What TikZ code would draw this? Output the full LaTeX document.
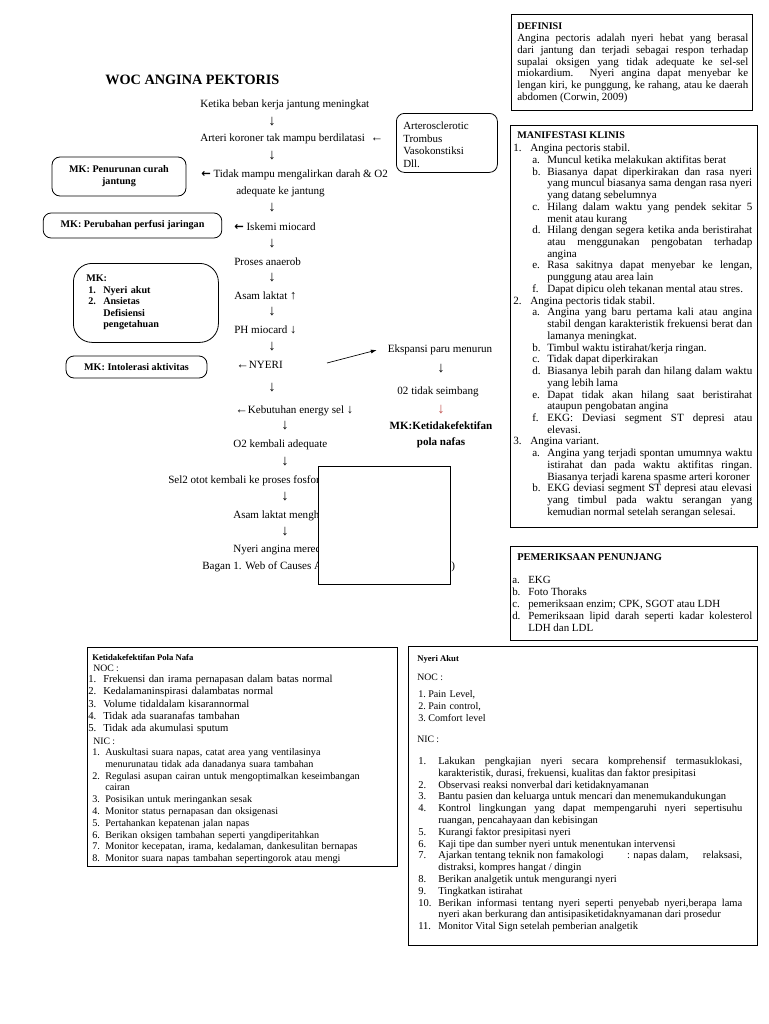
\documentclass[tikz,border=0pt]{standalone}
\usepackage{fontspec}
\setmainfont{Liberation Serif}
\newfontfamily\djv{DejaVu Sans}
\usetikzlibrary{arrows.meta}
\definecolor{mkred}{RGB}{192,80,77}
\newcommand\fNorm{\fontsize{8.3pt}{8.8pt}\selectfont}
\newcommand\fMan{\fontsize{8.3pt}{8.8pt}\selectfont\spaceskip=.25em plus .6em minus .1em\relax}
\newcommand\fDef{\fontsize{8.2pt}{8.8pt}\selectfont\spaceskip=.25em plus .6em minus .1em\relax}
\newcommand\fPem{\fontsize{8.2pt}{9pt}\selectfont}
\newcommand\fSmall{\fontsize{7.3pt}{8.85pt}\selectfont}
\newcommand\fNic{\fontsize{7.6pt}{8.85pt}\selectfont}
\newcommand\fNoc{\fontsize{8pt}{9.1pt}\selectfont}
\newcommand\fNy{\fontsize{7.9pt}{8.85pt}\selectfont\spaceskip=.25em plus .6em minus .1em\relax}
\newcommand\fBold{\fontsize{7.6pt}{9pt}\selectfont\bfseries}
\newcommand\fTit{\fontsize{6.5pt}{8pt}\selectfont\bfseries}
\newcommand\ia[1]{{\fontsize{9.5pt}{9pt}\selectfont #1}}
\newcommand\ba{{\djv\bfseries\fontsize{8.5pt}{8pt}\selectfont ←}}
\newcommand\li[3]{\par\leftskip=#1\relax\hangindent=#2\relax\hangafter=1\noindent\rule{0pt}{6pt}\makebox[#2][l]{#3}\ignorespaces}
\tikzset{
  tx/.style={inner sep=0pt, anchor=west, yshift=-1.5pt, text height=5.6pt, text depth=1.7pt, font=\fNorm},
  arw/.style={inner sep=0pt, anchor=center, yshift=-0.8pt, font=\fontsize{11pt}{12pt}\selectfont},
  bx/.style={draw, line width=0.6pt},
  mkbox/.style={draw, line width=0.6pt, rounded corners=6pt, font=\fBold, align=center, inner sep=0pt},
  blk/.style={inner sep=0pt, anchor=north west, align=justify},
}
\begin{document}
\hyphenpenalty=10000 \exhyphenpenalty=10000
\begin{tikzpicture}[x=0.75pt,y=-0.75pt]
\useasboundingbox (0,0) rectangle (768,1024);
\fill[white] (0,0) rectangle (768,1024);

% title
\node[tx, font=\fontsize{10.7pt}{12pt}\selectfont\bfseries] (title) at (105,80) {WOC ANGINA PEKTORIS};

% main flow
\node[tx] (f1) at (200,103) {Ketika beban kerja jantung meningkat};
\node[arw] (a1) at (272,121) {↓};
\node[tx] (f2) at (200,137) {Arteri koroner tak mampu berdilatasi\ \ \ia{←}};
\node[arw] (a2) at (272,155) {↓};
\node[tx] (f3) at (201,173) {\ba{} Tidak mampu mengalirkan darah \& O2};
\node[tx] (f3b) at (236,190) {adequate ke jantung};
\node[arw] (a3) at (272,207) {↓};
\node[tx] (f4) at (234,226) {\ba{} Iskemi miocard};
\node[arw] (a4) at (272,243) {↓};
\node[tx] (f5) at (234,261) {Proses anaerob};
\node[arw] (a5) at (272,277) {↓};
\node[tx] (f6) at (234,295) {Asam laktat \ia{↑}};
\node[arw] (a6) at (272,311) {↓};
\node[tx] (f7) at (234,329) {PH miocard \ia{↓}};
\node[arw] (a7) at (272,346) {↓};
\node[tx] (f8) at (236,364) {\ia{←}NYERI};
\node[arw] (a8) at (272,387) {↓};
\node[tx] (f9) at (235,409) {\ia{←}Kebutuhan energy sel \ia{↓}};
\node[arw] (a9) at (285,425) {↓};
\node[tx] (f10) at (233,443) {O2 kembali adequate};
\node[arw] (a10) at (285,461) {↓};
\node[tx] (f11) at (168,479) {Sel2 otot kembali ke proses fosfor};
\node[arw] (a11) at (285,496) {↓};
\node[tx] (f12) at (233,514) {Asam laktat mengh};
\node[arw] (a12) at (285,531) {↓};
\node[tx] (f13) at (233,548) {Nyeri angina mered};
\node[tx] (f14) at (202,565) {Bagan 1. Web of Causes A};
\node[tx] (f14b) at (451,565) {)};
\node[bx, fill=white, anchor=north west, minimum width=99pt, minimum height=88.5pt, inner sep=0pt] (blank) at (318,466) {};

% right flow
\node[tx, anchor=center] (e1) at (440,348) {Ekspansi paru menurun};
\node[arw] (e2) at (441,368) {↓};
\node[tx, anchor=center] (e3) at (438,390) {02 tidak seimbang};
\node[arw, text=mkred] (e4) at (441,409) {\textbf{↓}};
\node[tx, anchor=center, font=\fontsize{8.3pt}{9pt}\selectfont\bfseries] (e5) at (441,425) {MK:Ketidakefektifan};
\node[tx, anchor=center, font=\fontsize{8.3pt}{9pt}\selectfont\bfseries] (e6) at (441,441) {pola nafas};
\coordinate (ns) at (327,363);
\draw[-{Latex[length=4.5pt,width=3pt]}, line width=0.5pt] (ns) -- ([xshift=-8pt]e1.west);

% causes box
\node[bx, rounded corners=6pt, anchor=north west, minimum width=75.75pt, minimum height=44.25pt, inner sep=0pt] (art) at (396,113) {};
\node[blk, align=left, text width=70pt, font=\fontsize{8.2pt}{9.6pt}\selectfont] (artt) at (403,121) {\rule{0pt}{6pt}Arterosclerotic\\Trombus\\Vasokonstiksi\\Dll.};

% MK boxes
\node[mkbox, minimum width=100.5pt, minimum height=29.25pt] (mk1) at (119,176.5) {MK: Penurunan curah\\jantung};
\node[mkbox, minimum width=134pt, minimum height=18.75pt] (mk2) at (132.5,225.5) {MK: Perubahan perfusi jaringan};
\node[bx, rounded corners=14pt, anchor=north west, minimum width=108.75pt, minimum height=59.25pt, inner sep=0pt] (mk3) at (73,263) {};
\node[blk, align=left, text width=100pt, font=\fontsize{7.6pt}{8.6pt}\selectfont\bfseries] (mk3t) at (86,273.4) {\rule{0pt}{6pt}MK:
\li{1.5pt}{11.25pt}{1.}Nyeri akut
\li{1.5pt}{11.25pt}{2.}Ansietas\linebreak Defisiensi\linebreak pengetahuan\par};
\node[mkbox, minimum width=105.75pt, minimum height=16.5pt] (mk4) at (136.5,367) {MK: Intolerasi aktivitas};

% DEFINISI
\node[bx, anchor=north west, minimum width=180.75pt, minimum height=72pt, inner sep=0pt] (defbox) at (511,14) {};
\node[tx, font=\fBold] (deft) at (517,25) {DEFINISI};
\node[blk, text width=173.25pt, font=\fDef] (defx) at (517,33.4) {\rule{0pt}{6pt}Angina pectoris adalah nyeri hebat yang berasal\linebreak dari jantung dan terjadi sebagai respon terhadap\linebreak supalai oksigen yang tidak adequate ke sel-sel\linebreak miokardium. Nyeri angina dapat menyebar ke\linebreak lengan kiri, ke punggung, ke rahang, atau ke daerah\linebreak abdomen (Corwin, 2009)\par};

% MANIFESTASI KLINIS
\node[bx, anchor=north west, minimum width=185.25pt, minimum height=301.5pt, inner sep=0pt] (manbox) at (510,125) {};
\node[tx, font=\fBold] (mant) at (517,134) {MANIFESTASI KLINIS};
\node[blk, text width=179.25pt, font=\fMan] (manx) at (513,139.6) {%
\li{0pt}{12.75pt}{1.}Angina pectoris stabil.
\li{14.25pt}{11.25pt}{a.}Muncul ketika melakukan aktifitas berat
\li{14.25pt}{11.25pt}{b.}Biasanya dapat diperkirakan dan rasa nyeri\linebreak yang muncul biasanya sama dengan rasa nyeri\linebreak yang datang sebelumnya
\li{14.25pt}{11.25pt}{c.}Hilang dalam waktu yang pendek sekitar 5\linebreak menit atau kurang
\li{14.25pt}{11.25pt}{d.}Hilang dengan segera ketika anda beristirahat\linebreak atau menggunakan pengobatan terhadap\linebreak angina
\li{14.25pt}{11.25pt}{e.}Rasa sakitnya dapat menyebar ke lengan,\linebreak punggung atau area lain
\li{14.25pt}{11.25pt}{f.}Dapat dipicu oleh tekanan mental atau stres.
\li{0pt}{12.75pt}{2.}Angina pectoris tidak stabil.
\li{14.25pt}{11.25pt}{a.}Angina yang baru pertama kali atau angina\linebreak stabil dengan karakteristik frekuensi berat dan\linebreak lamanya meningkat.
\li{14.25pt}{11.25pt}{b.}Timbul waktu istirahat/kerja ringan.
\li{14.25pt}{11.25pt}{c.}Tidak dapat diperkirakan
\li{14.25pt}{11.25pt}{d.}Biasanya lebih parah dan hilang dalam waktu\linebreak yang lebih lama
\li{14.25pt}{11.25pt}{e.}Dapat tidak akan hilang saat beristirahat\linebreak ataupun pengobatan angina
\li{14.25pt}{11.25pt}{f.}EKG: Deviasi segment ST depresi atau\linebreak elevasi.
\li{0pt}{12.75pt}{3.}Angina variant.
\li{14.25pt}{11.25pt}{a.}Angina yang terjadi spontan umumnya waktu\linebreak istirahat dan pada waktu aktifitas ringan.\linebreak Biasanya terjadi karena spasme arteri koroner
\li{14.25pt}{11.25pt}{b.}EKG deviasi segment ST depresi atau elevasi\linebreak yang timbul pada waktu serangan yang\linebreak kemudian normal setelah serangan selesai.\par};

% PEMERIKSAAN PENUNJANG
\node[bx, anchor=north west, minimum width=185.25pt, minimum height=70.5pt, inner sep=0pt] (pembox) at (510,546) {};
\node[tx, font=\fontsize{7.8pt}{9pt}\selectfont\bfseries] (pemt) at (517,556) {PEMERIKSAAN PENUNJANG};
\node[blk, text width=180pt, font=\fPem] (pemx) at (512,571.4) {%
\li{0pt}{12pt}{a.}EKG
\li{0pt}{12pt}{b.}Foto Thoraks
\li{0pt}{12pt}{c.}pemeriksaan enzim; CPK, SGOT atau LDH
\li{0pt}{12pt}{d.}Pemeriksaan lipid darah seperti kadar kolesterol\linebreak LDH dan LDL\par};

% Ketidakefektifan Pola Nafa
\node[bx, anchor=north west, minimum width=232.5pt, minimum height=164.25pt, inner sep=0pt] (kbox) at (87,647) {};
\node[tx, font=\fTit] (kt) at (92,656) {Ketidakefektifan Pola Nafa};
\node[tx, font=\fSmall] (knoc) at (93,667) {NOC :};
\node[blk, align=left, text width=228pt, font=\fNoc] (knocx) at (88,670.4) {%
\li{0pt}{11.25pt}{1.}Frekuensi dan irama pernapasan dalam batas normal
\li{0pt}{11.25pt}{2.}Kedalamaninspirasi dalambatas normal
\li{0pt}{11.25pt}{3.}Volume tidaldalam kisarannormal
\li{0pt}{11.25pt}{4.}Tidak ada suaranafas tambahan
\li{0pt}{11.25pt}{5.}Tidak ada akumulasi sputum\par};
\node[tx, font=\fSmall] (knic) at (93,740) {NIC :};
\node[blk, align=left, text width=227pt, font=\fNic] (knicx) at (92,743.4) {%
\li{0pt}{9.75pt}{1.}Auskultasi suara napas, catat area yang ventilasinya\linebreak menurunatau tidak ada danadanya suara tambahan
\li{0pt}{9.75pt}{2.}Regulasi asupan cairan untuk mengoptimalkan keseimbangan\linebreak cairan
\li{0pt}{9.75pt}{3.}Posisikan untuk meringankan sesak
\li{0pt}{9.75pt}{4.}Monitor status pernapasan dan oksigenasi
\li{0pt}{9.75pt}{5.}Pertahankan kepatenan jalan napas
\li{0pt}{9.75pt}{6.}Berikan oksigen tambahan seperti yangdiperitahkan
\li{0pt}{9.75pt}{7.}Monitor kecepatan, irama, kedalaman, dankesulitan bernapas
\li{0pt}{9.75pt}{8.}Monitor suara napas tambahan sepertingorok atau mengi\par};

% Nyeri Akut
\node[bx, anchor=north west, minimum width=261.75pt, minimum height=224.25pt, inner sep=0pt] (nbox) at (408,646) {};
\node[tx, font=\fTit] (nt) at (417,657) {Nyeri Akut};
\node[tx, font=\fSmall] (nnoc) at (417,676) {NOC :};
\node[blk, align=left, text width=240pt, font=\fontsize{7.6pt}{9pt}\selectfont] (nnocx) at (418,685.4) {%
\li{0pt}{7.5pt}{1.}Pain Level,
\li{0pt}{7.5pt}{2.}Pain control,
\li{0pt}{7.5pt}{3.}Comfort level\par};
\node[tx, font=\fSmall] (nnic) at (417,738) {NIC :};
\node[blk, text width=243pt, font=\fNy] (nnicx) at (418,752.4) {%
\li{0pt}{15pt}{1.}Lakukan pengkajian nyeri secara komprehensif termasuklokasi,\linebreak karakteristik, durasi, frekuensi, kualitas dan faktor presipitasi
\li{0pt}{15pt}{2.}Observasi reaksi nonverbal dari ketidaknyamanan
\li{0pt}{15pt}{3.}Bantu pasien dan keluarga untuk mencari dan menemukandukungan
\li{0pt}{15pt}{4.}Kontrol lingkungan yang dapat mempengaruhi nyeri sepertisuhu\linebreak ruangan, pencahayaan dan kebisingan
\li{0pt}{15pt}{5.}Kurangi faktor presipitasi nyeri
\li{0pt}{15pt}{6.}Kaji tipe dan sumber nyeri untuk menentukan intervensi
\li{0pt}{15pt}{7.}Ajarkan tentang teknik non famakologi\hspace{2.2em}: napas dalam,\hfill relaksasi,\linebreak distraksi, kompres hangat / dingin
\li{0pt}{15pt}{8.}Berikan analgetik untuk mengurangi nyeri
\li{0pt}{15pt}{9.}Tingkatkan istirahat
\li{0pt}{15pt}{10.}Berikan informasi tentang nyeri seperti penyebab nyeri,berapa lama\linebreak nyeri akan berkurang dan antisipasiketidaknyamanan dari prosedur
\li{0pt}{15pt}{11.}Monitor Vital Sign setelah pemberian analgetik\par};
\end{tikzpicture}
\end{document}
